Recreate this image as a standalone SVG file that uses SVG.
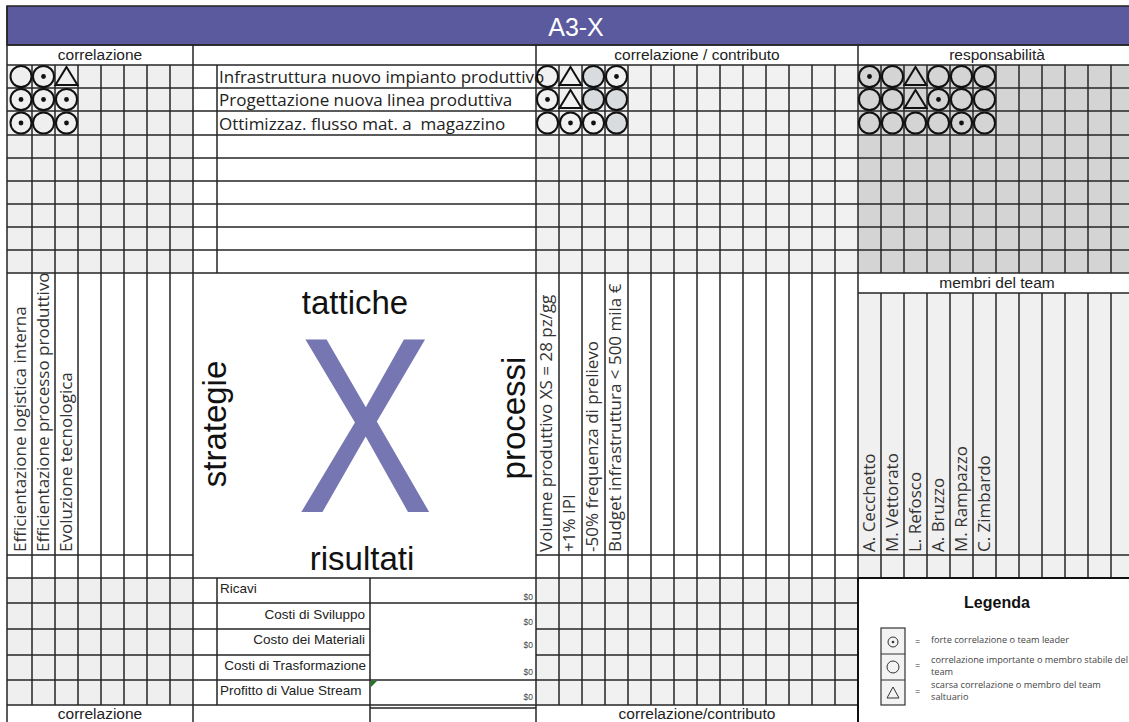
<svg xmlns="http://www.w3.org/2000/svg" width="1129" height="722" viewBox="0 0 1129 722">
<style>
.grid{fill:none;stroke:#262626;stroke-width:1.5}
.sym{fill:none;stroke:#111;stroke-width:2}
.hdr{font-family:"Liberation Sans",Arial,sans-serif;font-size:15.5px;fill:#222;text-anchor:middle}
.big{font-family:"Liberation Sans",Arial,sans-serif;font-size:33px;fill:#111;text-anchor:middle}
.row{font-family:"Open Sans","Noto Sans",sans-serif;font-size:17px;fill:#222;white-space:pre}
.rot{font-family:"Open Sans","Noto Sans",sans-serif;font-size:17px;fill:#333}
.res{font-family:"Liberation Sans",Arial,sans-serif;font-size:13.5px;fill:#222}
.val{font-family:"Liberation Sans",Arial,sans-serif;font-size:8.5px;fill:#444;text-anchor:end}
.leg{font-family:"Open Sans","Noto Sans",sans-serif;font-size:9.2px;fill:#444}
</style>
<defs>
<circle id="o" r="10.5" class="sym"/>
<circle id="og" r="10.5" fill="#d9dcdf" stroke="#111" stroke-width="2"/>
<g id="d"><circle r="10.5" class="sym"/><circle r="2.4" fill="#111"/></g>
<path id="t" d="M0,-9.5 L11,8.5 L-11,8.5 Z" class="sym"/>
</defs>
<rect width="1129" height="722" fill="#fff"/>
<g id="title">
<rect x="7" y="6" width="1124" height="39" fill="#5b5a9e" stroke="#222" stroke-width="1.5"/>
<text x="576" y="36" font-family="Liberation Sans,Arial,sans-serif" font-size="25" fill="#fff" text-anchor="middle">A3-X</text>
</g>
<g id="fills">
<rect x="7" y="65" width="186" height="208" fill="#efefef"/>
<rect x="536" y="65" width="322" height="208" fill="#f1f1f1"/>
<rect x="858" y="65" width="271" height="208" fill="#d4d4d4"/>
<rect x="858" y="293" width="271" height="285" fill="#f0f0f0"/>
<rect x="7" y="578" width="186" height="127" fill="#efefef"/>
<rect x="536" y="578" width="322" height="127" fill="#f1f1f1"/>
</g>
<g id="connectors">
<path class="grid" d="M7 6V722 M32 65V705 M55 65V705 M78 65V705 M101 65V705 M124 65V705 M147 65V705 M170 65V705 M193 45V722 M217 65V273 M217 578V705 M370 578V722 M536 45V722 M559 65V705 M582 65V705 M605 65V705 M628 65V705 M651 65V705 M674 65V705 M697 65V705 M720 65V705 M743 65V705 M766 65V705 M789 65V705 M812 65V705 M835 65V705 M858 45V722 M881 65V273 M904 65V273 M927 65V273 M950 65V273 M973 65V273 M996 65V273 M1019 65V273 M1042 65V273 M1065 65V273 M1088 65V273 M1111 65V273 M881 293V578 M904 293V578 M927 293V578 M950 293V578 M973 293V578 M996 293V578 M1019 293V578 M1042 293V578 M1065 293V578 M1088 293V578 M1111 293V578"/>
<path class="grid" d="M7 45H1129 M7 65H1129 M7 88H1129 M7 111H1129 M7 135H1129 M7 158H1129 M7 181H1129 M7 204H1129 M7 227H1129 M7 250H1129 M7 273H1129 M858 293H1129 M7 555H193 M536 555H1129 M7 578H1129 M7 603H858 M7 629H370 M536 629H858 M7 655H370 M536 655H858 M7 680H858 M7 705H858 M370 708H536"/>
<path d="M858 578V722 M858 578H1129" fill="none" stroke="#111" stroke-width="2"/>
</g>
<g id="headers">
<text class="hdr" x="100" y="60">correlazione</text>
<text class="hdr" x="697" y="60">correlazione / contributo</text>
<text class="hdr" x="997" y="60">responsabilità</text>
<text class="hdr" x="997" y="288">membri del team</text>
<text class="hdr" x="100" y="719">correlazione</text>
<text class="hdr" x="697" y="719">correlazione/contributo</text>
</g>
<g id="tattiche-rows">
<text class="row" x="219" y="83">Infrastruttura nuovo impianto produttivo</text>
<text class="row" x="219" y="106">Progettazione nuova linea produttiva</text>
<text class="row" x="219" y="130">Ottimizzaz. flusso mat. a  magazzino</text>
</g>
<g id="strategie-cols">
<text class="rot" transform="translate(26,552) rotate(-90)">Efficientazione logistica interna</text>
<text class="rot" transform="translate(49,552) rotate(-90)">Efficientazione processo produttivo</text>
<text class="rot" transform="translate(72,552) rotate(-90)">Evoluzione tecnologica</text>
</g>
<g id="processi-cols">
<text class="rot" transform="translate(552,552) rotate(-90)">Volume produttivo XS = 28 pz/gg</text>
<text class="rot" transform="translate(575,552) rotate(-90)">+1% IPI</text>
<text class="rot" transform="translate(598,552) rotate(-90)">-50% frequenza di prelievo</text>
<text class="rot" transform="translate(621,552) rotate(-90)">Budget infrastruttura &lt; 500 mila €</text>
</g>
<g id="team-cols">
<text class="rot" transform="translate(875,552) rotate(-90)">A. Cecchetto</text>
<text class="rot" transform="translate(898,552) rotate(-90)">M. Vettorato</text>
<text class="rot" transform="translate(921,552) rotate(-90)">L. Refosco</text>
<text class="rot" transform="translate(944,552) rotate(-90)">A. Bruzzo</text>
<text class="rot" transform="translate(967,552) rotate(-90)">M. Rampazzo</text>
<text class="rot" transform="translate(990,552) rotate(-90)">C. Zimbardo</text>
</g>
<g id="center">
<text x="0" y="0" transform="translate(365,512) scale(0.82,1)" font-family="Liberation Sans,Arial,sans-serif" font-size="250" fill="#7676b2" text-anchor="middle">X</text>
<text class="big" x="355" y="314">tattiche</text>
<text class="big" x="362" y="570">risultati</text>
<text class="big" transform="translate(226,424) rotate(-90)">strategie</text>
<text class="big" transform="translate(525,418) rotate(-90)">processi</text>
</g>
<g id="correlazione-marks">
<use href="#o" x="21" y="76.5"/><use href="#d" x="43.5" y="76.5"/><use href="#t" x="66.5" y="76.5"/>
<use href="#d" x="21" y="99.5"/><use href="#d" x="43.5" y="99.5"/><use href="#d" x="66.5" y="99.5"/>
<use href="#d" x="21" y="123"/><use href="#o" x="43.5" y="123"/><use href="#d" x="66.5" y="123"/>
</g>
<g id="contributo-marks">
<use href="#o" x="547.5" y="76.5"/><use href="#t" x="570.5" y="76.5"/><use href="#og" x="593.5" y="76.5"/><use href="#d" x="616.5" y="76.5"/>
<use href="#d" x="547.5" y="99.5"/><use href="#t" x="570.5" y="99.5"/><use href="#og" x="593.5" y="99.5"/><use href="#og" x="616.5" y="99.5"/>
<use href="#o" x="547.5" y="123"/><use href="#d" x="570.5" y="123"/><use href="#d" x="593.5" y="123"/><use href="#og" x="616.5" y="123"/>
</g>
<g id="responsabilita-marks">
<use href="#d" x="869.5" y="76.5"/><use href="#o" x="892.5" y="76.5"/><use href="#t" x="915.5" y="76.5"/><use href="#o" x="938.5" y="76.5"/><use href="#o" x="961.5" y="76.5"/><use href="#o" x="984.5" y="76.5"/>
<use href="#o" x="869.5" y="99.5"/><use href="#o" x="892.5" y="99.5"/><use href="#t" x="915.5" y="99.5"/><use href="#d" x="938.5" y="99.5"/><use href="#o" x="961.5" y="99.5"/><use href="#o" x="984.5" y="99.5"/>
<use href="#o" x="869.5" y="123"/><use href="#o" x="892.5" y="123"/><use href="#o" x="915.5" y="123"/><use href="#o" x="938.5" y="123"/><use href="#d" x="961.5" y="123"/><use href="#o" x="984.5" y="123"/>
</g>
<g id="risultati-table">
<text class="res" x="220" y="593">Ricavi</text>
<text class="res" x="365" y="619" text-anchor="end">Costi di Sviluppo</text>
<text class="res" x="365" y="644" text-anchor="end">Costo dei Materiali</text>
<text class="res" x="366" y="670" text-anchor="end">Costi di Trasformazione</text>
<text class="res" x="220" y="695">Profitto di Value Stream</text>
<text class="val" x="533" y="600">$0</text>
<text class="val" x="533" y="625">$0</text>
<text class="val" x="533" y="648">$0</text>
<text class="val" x="533" y="675">$0</text>
<text class="val" x="533" y="700">$0</text>
<polygon points="371,681 377,681 371,687" fill="#1a7a1a"/>
</g>
<g id="legenda">
<text x="997" y="608" font-family="Liberation Sans,Arial,sans-serif" font-size="16" font-weight="bold" fill="#111" text-anchor="middle">Legenda</text>
<rect x="881" y="628" width="24" height="77" fill="#f3f3f3" stroke="#333" stroke-width="1.2"/>
<path d="M881 654H905 M881 680H905" stroke="#333" stroke-width="1.2"/>
<circle cx="893" cy="642" r="5" fill="none" stroke="#333" stroke-width="1"/>
<circle cx="893" cy="642" r="1.3" fill="#333"/>
<circle cx="893" cy="667" r="6" fill="none" stroke="#333" stroke-width="1"/>
<path d="M893,687 L899,698 L887,698 Z" fill="none" stroke="#333" stroke-width="1"/>
<text class="leg" x="915" y="645">=</text>
<text class="leg" x="915" y="669">=</text>
<text class="leg" x="915" y="695">=</text>
<text class="leg" x="931" y="643">forte correlazione o team leader</text>
<text class="leg" x="931" y="663">correlazione importante o membro stabile del</text>
<text class="leg" x="931" y="675">team</text>
<text class="leg" x="931" y="688">scarsa correlazione o membro del team</text>
<text class="leg" x="931" y="700">saltuario</text>
</g>
</svg>
